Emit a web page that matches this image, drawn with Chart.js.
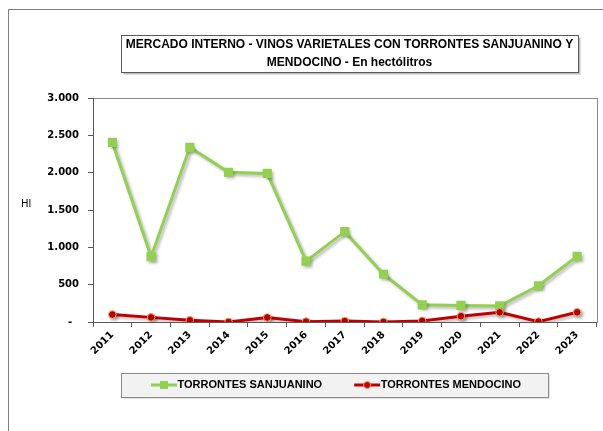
<!DOCTYPE html>
<html>
<head>
<meta charset="utf-8">
<script src="https://cdn.jsdelivr.net/npm/chart.js@4.4.1/dist/chart.umd.min.js"></script>
<style>
  html, body { margin: 0; padding: 0; background: #fff; }
  #wrap { width: 603px; height: 431px; position: relative; }
</style>
</head>
<body>
<div id="wrap"><canvas id="chart"></canvas></div>
<script>
// data (hectolitres)
const years = ['2011', '2012', '2013', '2014', '2015', '2016', '2017', '2018', '2019', '2020', '2021', '2022', '2023'];
const sanjuanino = [2405, 875, 2340, 2005, 1990, 815, 1210, 640, 230, 222, 215, 485, 880];
const mendocino = [100, 62, 23, 0, 60, 5, 12, 0, 15, 78, 130, 5, 130];
const seriesNames = ['TORRONTES SANJUANINO', 'TORRONTES MENDOCINO'];
const titleLines = ['MERCADO INTERNO - VINOS VARIETALES CON TORRONTES SANJUANINO Y', 'MENDOCINO - En hectólitros'];
const unitLabel = 'Hl';
const yMax = 3000;
const yStep = 500;

const GREEN = '#92D050';
const RED = '#C00000';

// small line+marker icons for the legend
function makeIcon(color, square) {
  const c = document.createElement('canvas');
  c.width = 30; c.height = 12;
  const g = c.getContext('2d');
  g.strokeStyle = color; g.lineWidth = 3;
  g.beginPath(); g.moveTo(4, 6); g.lineTo(30, 6); g.stroke();
  if (square) {
    g.fillStyle = color; g.fillRect(13, 2, 8, 8);
  } else {
    g.fillStyle = RED; g.strokeStyle = '#F4A261'; g.lineWidth = 1;
    g.beginPath(); g.arc(17, 6, 3.5, 0, Math.PI * 2); g.fill(); g.stroke();
  }
  return c;
}
const legendIcons = [makeIcon(GREEN, true), makeIcon(RED, false)];

function fmtThousands(v) {
  if (v === 0) return '-  ';
  return String(v).replace(/\B(?=(\d{3})+(?!\d))/g, '.');
}

const framePlugin = {
  id: 'frame',
  afterLayout(chart) {
    // title box and legend box sit off-centre in the original
    const t = chart.titleBlock;
    t.left = 124; t.right = 575; t.width = t.right - t.left;
    const lg = chart.legend;
    lg.left = 102; lg.right = 571; lg.width = lg.right - lg.left;
    lg.top = 346.5; lg.bottom = lg.top + lg.height;
  },
  beforeDraw(chart) {
    const ctx = chart.ctx;
    const a = chart.chartArea;
    ctx.save();
    ctx.fillStyle = '#fff';
    ctx.fillRect(0, 0, chart.width, chart.height);
    ctx.strokeStyle = '#7f7f7f';
    ctx.lineWidth = 1;
    ctx.strokeRect(8.5, 9.5, chart.width + 20, chart.height + 20);

    // title box with shadow
    const t = chart.titleBlock;
    const bx = Math.round(t.left - 3) + 0.5, by = Math.round(t.top + 35) + 0.5;
    const bw = Math.round(t.width + 6), bh = 37;
    ctx.fillStyle = '#bfbfbf';
    ctx.fillRect(bx + 2, by + 2, bw, bh);
    ctx.fillStyle = '#fff';
    ctx.fillRect(bx, by, bw, bh);
    ctx.strokeStyle = '#595959';
    ctx.strokeRect(bx, by, bw, bh);

    // legend box
    const hb = chart.legend.legendHitBoxes;
    if (hb && hb.length) {
      const last = hb[hb.length - 1];
      const lx = Math.round(hb[0].left - 31) + 0.5;
      const rx = Math.round(last.left + last.width + 27) + 0.5;
      const cy = hb[0].top + hb[0].height / 2;
      const ty = Math.round(cy - 12) + 0.5;
      ctx.fillStyle = '#c8c8c8';
      ctx.fillRect(lx + 1, ty + 1, rx - lx, 24);
      ctx.fillStyle = '#f2f2f2';
      ctx.fillRect(lx, ty, rx - lx, 24);
      ctx.strokeStyle = '#8c8c8c';
      ctx.strokeRect(lx, ty, rx - lx, 24);
    }

    // plot area border
    ctx.strokeStyle = '#8c8c8c';
    ctx.strokeRect(Math.round(a.left) + 0.5, Math.round(a.top) + 0.5, Math.round(a.right - a.left), Math.round(a.bottom - a.top));
    ctx.restore();
  },
  beforeDatasetDraw(chart) {
    const ctx = chart.ctx;
    ctx.save();
    ctx.shadowColor = 'rgba(0,0,0,0.28)';
    ctx.shadowBlur = 3;
    ctx.shadowOffsetX = 2;
    ctx.shadowOffsetY = 2;
  },
  afterDatasetDraw(chart) {
    chart.ctx.restore();
  },
  afterDraw(chart) {
    const ctx = chart.ctx;
    ctx.save();
    ctx.fillStyle = '#000';
    ctx.font = '10px "DejaVu Sans"';
    ctx.textAlign = 'left';
    ctx.textBaseline = 'middle';
    ctx.fillText(unitLabel, 21, 204);
    ctx.restore();
  }
};

Chart.defaults.font.family = '"DejaVu Sans", sans-serif';
Chart.defaults.color = '#000';

const ctx = document.getElementById('chart').getContext('2d');
const chart = new Chart(ctx, {
  type: 'line',
  data: {
    labels: years,
    datasets: [
      {
        label: seriesNames[0],
        data: sanjuanino,
        borderColor: GREEN,
        backgroundColor: GREEN,
        borderWidth: 3,
        pointStyle: 'rect',
        pointRadius: 6.5,
        pointHoverRadius: 6.5,
        pointBackgroundColor: GREEN,
        pointBorderColor: GREEN,
        pointBorderWidth: 0,
        tension: 0,
        order: 1
      },
      {
        label: seriesNames[1],
        data: mendocino,
        borderColor: RED,
        backgroundColor: RED,
        borderWidth: 3,
        pointStyle: 'circle',
        pointRadius: 3.8,
        pointHoverRadius: 3.8,
        pointBackgroundColor: RED,
        pointBorderColor: '#F4A261',
        pointBorderWidth: 1,
        tension: 0,
        order: 0
      }
    ]
  },
  options: {
    responsive: true,
    maintainAspectRatio: false,
    animation: false,
    layout: { padding: { left: 0, right: 1, top: 0, bottom: 10 } },
    plugins: {
      title: {
        display: true,
        text: titleLines,
        color: '#000',
        font: { family: '"Liberation Sans", Arial, sans-serif', size: 12, weight: 'bold', lineHeight: 1.46 },
        padding: { top: 36, bottom: 27 }
      },
      legend: {
        position: 'bottom',
        labels: {
          usePointStyle: true,
          pointStyleWidth: 20,
          padding: 33,
          color: '#000',
          font: { family: '"Liberation Sans", Arial, sans-serif', size: 11, weight: 'bold' },
          sort: (a, b) => a.datasetIndex - b.datasetIndex,
          generateLabels(chart) {
            const items = Chart.defaults.plugins.legend.labels.generateLabels(chart);
            items.forEach(it => { it.pointStyle = legendIcons[it.datasetIndex]; });
            return items;
          }
        }
      },
      tooltip: { enabled: false }
    },
    scales: {
      x: {
        offset: true,
        grid: { display: true, offset: true, drawOnChartArea: false, drawTicks: true, tickLength: 5, color: '#595959' },
        border: { color: '#595959', width: 1 },
        ticks: {
          autoSkip: false,
          maxRotation: 45,
          minRotation: 45,
          padding: 2,
          color: '#000',
          font: { family: '"DejaVu Sans", sans-serif', size: 10, weight: 'bold' }
        },
        afterFit(scale) { scale.height = 45; }
      },
      y: {
        min: 0,
        max: yMax,
        grid: { display: true, drawOnChartArea: false, drawTicks: true, tickLength: 5, color: '#595959' },
        border: { color: '#595959', width: 1 },
        ticks: {
          stepSize: yStep,
          padding: 9,
          color: '#000',
          font: { family: '"DejaVu Sans", sans-serif', size: 10, weight: 'bold' },
          callback: v => fmtThousands(v)
        },
        afterFit(scale) { scale.width = 93; }
      }
    }
  },
  plugins: [framePlugin]
});
</script>
</body>
</html>
